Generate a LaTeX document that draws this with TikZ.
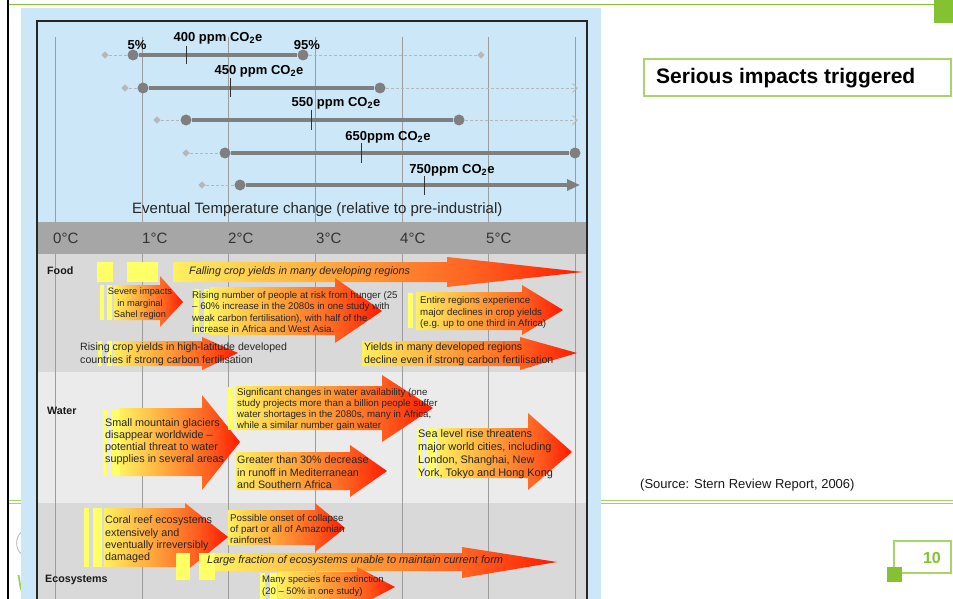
\documentclass[tikz,border=0pt]{standalone}
\usepackage{fontspec}
\setmainfont{Liberation Sans}
\usetikzlibrary{shapes.geometric,arrows.meta}
\definecolor{panelblue}{HTML}{CCE8F8}
\definecolor{bandgray}{HTML}{A6A6A6}
\definecolor{foodbg}{HTML}{D9D9D9}
\definecolor{waterbg}{HTML}{EBEBEB}
\definecolor{gridgray}{HTML}{9C9C9C}
\definecolor{bargray}{HTML}{7F7F7F}
\definecolor{dashgray}{HTML}{B8B6B6}
\definecolor{slidegreen}{HTML}{84C232}
\definecolor{boxgreen}{HTML}{A8D468}
\definecolor{stripyellow}{HTML}{FFFF66}
\definecolor{fireA}{HTML}{FFF060}
\definecolor{fireB}{HTML}{FFB040}
\definecolor{fireC}{HTML}{FF6020}
\definecolor{fireD}{HTML}{FF1A00}
\definecolor{txtdark}{HTML}{262626}
\pgfdeclarehorizontalshading{fire}{100bp}{color(0bp)=(fireA); color(25bp)=(fireA); color(42bp)=(fireB); color(62bp)=(fireC); color(75bp)=(fireD); color(100bp)=(fireD)}
% x0, ytop, ybot, xhead, headtop, headbot, xtip, ytip
\newcommand\firearrow[8]{\shade[shading=fire] (#1,#2) -- (#4,#2) -- (#4,#5) -- (#7,#8) -- (#4,#6) -- (#4,#3) -- (#1,#3) -- cycle;}
\newcommand\fsz[2]{\fontsize{#1}{#2}\selectfont}
\tikzset{
  dot/.style={circle, fill=bargray, minimum size=11pt, inner sep=0pt},
  dia/.style={diamond, fill=dashgray, minimum size=7.5pt, inner sep=0pt},
  solidbar/.style={draw=bargray, line width=4pt},
  dashline/.style={draw=dashgray, line width=0.8pt, dash pattern=on 3pt off 2pt},
  ppm/.style={font=\bfseries\fsz{13}{15}, inner sep=0pt, text=black},
  ticklines/.style={draw=black!80, line width=0.9pt},
  gridline/.style={draw=gridgray, line width=0.8pt},
  tlabel/.style={font=\fsz{15}{17}, text=black!80, inner sep=0pt, anchor=west},
  atext/.style={inner sep=0pt, anchor=north west, align=left, text=txtdark},
  sect/.style={font=\bfseries\fsz{10.7}{12}, inner sep=0pt, anchor=west, text=black!90},
  ystrip/.style={fill=stripyellow},
}
\begin{document}
\begin{tikzpicture}[x=1pt,y=-1pt]
\useasboundingbox (0,0) rectangle (953,599);
\clip (0,0) rectangle (953,599);
% slide frame
\fill[white] (0,0) rectangle (953,599);
\draw[black, line width=2.6pt] (8,0) -- (8,599);
\draw[slidegreen, line width=1.3pt] (9,4.5) -- (953,4.5);
\fill[slidegreen] (934,0) rectangle (953,23);
\draw[boxgreen!90!slidegreen, line width=1.1pt] (9,500.7) -- (953,500.7);
\draw[boxgreen!90!slidegreen, line width=1.1pt] (9,503.7) -- (953,503.7);
\draw[gray!55, line width=0.8pt] (21.5,532) .. controls (15,537) and (15,549) .. (21.5,554);
\draw[slidegreen!80, line width=1.8pt] (18.5,575) -- (21,590);
% panel
\fill[panelblue] (21,8) rectangle (601,599);
\fill[bandgray] (37,222) rectangle (587,254);
\fill[foodbg] (37,254) rectangle (587,372);
\fill[waterbg] (37,372) rectangle (587,503);
\fill[foodbg] (37,503) rectangle (587,610);
% grid lines
\foreach \gx in {55,142,228,315,402,488,575}{
  \draw[gridline] (\gx,37) -- (\gx,222);
  \draw[gridline] (\gx,254) -- (\gx,610);
}
% temperature axis
\node[tlabel] (t0) at (53,238) {0°C};
\node[tlabel] (t1) at (142,238) {1°C};
\node[tlabel] (t2) at (228,238) {2°C};
\node[tlabel] (t3) at (316,238) {3°C};
\node[tlabel] (t4) at (400,238) {4°C};
\node[tlabel] (t5) at (486,238) {5°C};
\node[tlabel, text=black!85] (evt) at (132,210) {Eventual Temperature change (relative to pre-industrial)};
% row 1 : 400 ppm
\node[dia] (d1) at (105,55) {};
\node[dot] (a1) at (133,55) {};
\node[dot] (b1) at (303,55) {};
\node[dia] (e1) at (481,55) {};
\draw[dashline] (d1) -- (a1);
\draw[solidbar] (a1) -- (b1);
\draw[dashline] (b1) -- (e1);
\draw[ticklines] (186,46) -- (186,64);
\node[ppm] (l400) at (218,38.5) {400 ppm CO\textsubscript{2}e};
\node[ppm] (p5) at (137,45) {5\%};
\node[ppm] (p95) at (307,45) {95\%};
% row 2 : 450 ppm
\node[dia] (d2) at (125,88) {};
\node[dot] (a2) at (143,88) {};
\node[dot] (b2) at (380,88) {};
\coordinate (e2) at (578,88);
\draw[dashline] (d2) -- (a2);
\draw[solidbar] (a2) -- (b2);
\draw[dashline, -{Straight Barb[length=5pt,width=9pt]}] (b2) -- (e2);
\draw[ticklines] (230,78) -- (230,97);
\node[ppm] (l450) at (259,71.5) {450 ppm CO\textsubscript{2}e};
% row 3 : 550 ppm
\node[dia] (d3) at (157,120) {};
\node[dot] (a3) at (186,120) {};
\node[dot] (b3) at (459,120) {};
\coordinate (e3) at (578,120);
\draw[dashline] (d3) -- (a3);
\draw[solidbar] (a3) -- (b3);
\draw[dashline, -{Straight Barb[length=5pt,width=9pt]}] (b3) -- (e3);
\draw[ticklines] (311,110) -- (311,130);
\node[ppm] (l550) at (336,103.5) {550 ppm CO\textsubscript{2}e};
% row 4 : 650 ppm
\node[dia] (d4) at (186,153) {};
\node[dot] (a4) at (225,153) {};
\node[dot] (b4) at (575,153) {};
\draw[dashline] (d4) -- (a4);
\draw[solidbar] (a4) -- (b4);
\draw[ticklines] (361,143) -- (361,163);
\node[ppm] (l650) at (388,137.5) {650ppm CO\textsubscript{2}e};
% row 5 : 750 ppm
\node[dia] (d5) at (202,185) {};
\node[dot] (a5) at (240,185) {};
\coordinate (e5) at (580,185);
\draw[dashline] (d5) -- (a5);
\draw[solidbar, -{Triangle[length=13pt,width=11pt]}] (a5) -- (e5);
\draw[ticklines] (424,176) -- (424,195);
\node[ppm] (l750) at (452,170.5) {750ppm CO\textsubscript{2}e};
% ---------- Food arrows ----------
\fill[ystrip] (97,262) rectangle (113,282);
\fill[ystrip] (127,262) rectangle (158,282);
\firearrow{173}{262}{282}{447}{257}{287}{583}{272}
\fill[ystrip] (100,285) rectangle (104,320);
\fill[ystrip] (107,285) rectangle (112,320);
\firearrow{114}{285}{320}{160}{276}{327}{183}{302}
\fill[ystrip] (194,289) rectangle (199,333);
\fill[ystrip] (204,289) rectangle (209,333);
\firearrow{210}{287}{335}{335}{278}{343}{382}{311}
\fill[ystrip] (408,293) rectangle (413,328);
\firearrow{416}{292}{330}{522}{285}{335}{563}{310}
\fill[ystrip] (98,341) rectangle (102,366);
\fill[ystrip] (107,341) rectangle (112,366);
\firearrow{113}{341}{366}{202}{337}{370}{238}{353}
\firearrow{362}{341}{366}{520}{337}{370}{577}{353}
% ---------- Water arrows ----------
\fill[ystrip] (103,410) rectangle (107,475);
\fill[ystrip] (112,410) rectangle (119,475);
\firearrow{120}{408}{476}{202}{395}{490}{240}{442}
\fill[ystrip] (228,387) rectangle (233,430);
\firearrow{236}{386}{430}{382}{375}{442}{433}{408}
\firearrow{236}{452}{490}{350}{445}{497}{387}{471}
\fill[ystrip] (417,428) rectangle (422,478);
\fill[ystrip] (427,428) rectangle (435,478);
\firearrow{437}{428}{478}{528}{413}{490}{572}{452}
% ---------- Ecosystem arrows ----------
\fill[ystrip] (84,508) rectangle (89,567);
\fill[ystrip] (93,508) rectangle (102,567);
\firearrow{104}{508}{567}{185}{503}{572}{228}{537}
\firearrow{228}{510}{545}{315}{503}{552}{345}{528}
\fill[ystrip] (176,553) rectangle (190,580);
\fill[ystrip] (199,553) rectangle (215,580);
\firearrow{215}{553}{571}{462}{547}{578}{557}{562}
\fill[ystrip] (260,573) rectangle (265,599);
\fill[ystrip] (270,573) rectangle (277,599);
\firearrow{278}{572}{602}{357}{567}{607}{395}{587}
% ---------- section labels ----------
\node[sect] (food) at (47,271) {Food};
\node[sect] (water) at (47,411) {Water};
\node[sect] (eco) at (45,580) {Ecosystems};
% ---------- texts ----------
\node[atext, anchor=west, font=\itshape\fsz{10.8}{12}] (x1) at (189,272) {Falling crop yields in many developing regions};
\node[atext, anchor=north, align=center, font=\fsz{9.3}{11.5}] (x2) at (140,287.6) {Severe impacts\\in marginal\\Sahel region};
\node[atext, font=\fsz{9.7}{11.3}] (x3) at (192,291.4) {Rising number of people at risk from hunger (25\\– 60\% increase in the 2080s in one study with\\weak carbon fertilisation), with half of the\\increase in Africa and West Asia.};
\node[atext, font=\fsz{9.7}{11.5}] (x4) at (420,296.4) {Entire regions experience\\major declines in crop yields\\(e.g. up to one third in Africa)};
\node[atext, font=\fsz{10.6}{13}] (x5) at (80,343.1) {Rising crop yields in high-latitude developed\\countries if strong carbon fertilisation};
\node[atext, font=\fsz{10.6}{13}] (x6) at (364,343.1) {Yields in many developed regions\\decline even if strong carbon fertilisation};
\node[atext, font=\fsz{10.8}{12.3}] (x7) at (105,418) {Small mountain glaciers\\disappear worldwide –\\potential threat to water\\supplies in several areas};
\node[atext, font=\fsz{9.7}{11}] (x8) at (237,388.4) {Significant changes in water availability (one\\study projects more than a billion people suffer\\water shortages in the 2080s, many in Africa,\\while a similar number gain water};
\node[atext, font=\fsz{10.7}{12.5}] (x9) at (237,456) {Greater than 30\% decrease\\in runoff in Mediterranean\\and Southern Africa};
\node[atext, font=\fsz{10.9}{13}] (x10) at (418,429) {Sea level rise threatens\\major world cities, including\\London, Shanghai, New\\York, Tokyo and Hong Kong};
\node[atext, font=\fsz{10.75}{12.3}] (x11) at (105,516) {Coral reef ecosystems\\extensively and\\eventually irreversibly\\damaged};
\node[atext, font=\fsz{9.8}{11}] (x12) at (230,514.4) {Possible onset of collapse\\of part or all of Amazonian\\rainforest};
\node[atext, anchor=west, font=\itshape\fsz{11}{12}] (x13) at (207,561) {Large fraction of ecosystems unable to maintain current form};
\node[atext, font=\fsz{9.5}{11.5}] (x14) at (262,575.5) {Many species face extinction\\(20 – 50\% in one study)};
% box border
\draw[black!85, line width=1.6pt] (37,620) -- (37,21) -- (587,21) -- (587,620);
% ---------- right side ----------
\node[draw=boxgreen, line width=1.2pt, minimum width=307pt, minimum height=37pt, inner sep=0pt] (title) at (797.5,77.5) {};
\node[font=\bfseries\fsz{21}{24}, anchor=west, inner sep=0pt] (titletext) at (656,78) {Serious impacts triggered};
\node[font=\fsz{13}{15}, anchor=west, inner sep=0pt, text=black!90] (src) at (640,485.5) {(Source: Stern Review Report, 2006)};
\node[draw=boxgreen, line width=1.1pt, minimum width=57pt, minimum height=32pt, inner sep=0pt] (pgbox) at (922.5,557) {};
\node[font=\bfseries\fsz{16}{18}, text=slidegreen, anchor=east, inner sep=0pt] (pgnum) at (941,557.5) {10};
\fill[slidegreen] (887,567) rectangle (902,582);
\end{tikzpicture}
\end{document}
